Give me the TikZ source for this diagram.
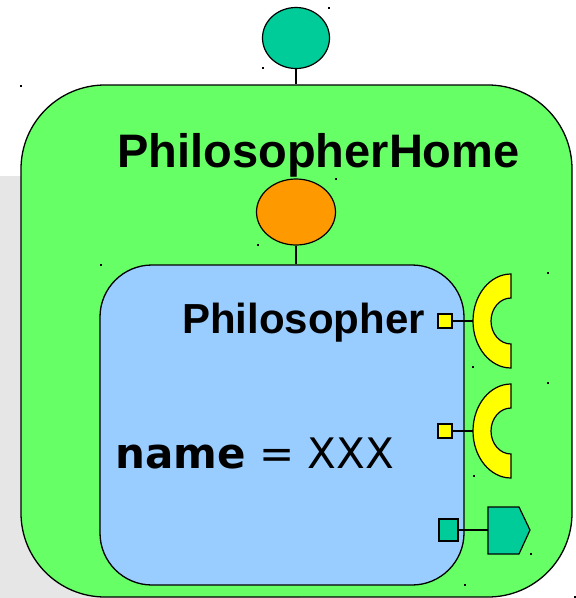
\documentclass[tikz,border=0pt]{standalone}
\usepackage{fontspec}
\usepackage{tikz}
\usetikzlibrary{shapes.geometric}
\newfontfamily\arialfont{Liberation Sans}
\newfontfamily\dejafont{DejaVu Sans}
\definecolor{homegreen}{HTML}{66FF66}
\definecolor{philblue}{HTML}{99CCFF}
\definecolor{portteal}{HTML}{00CC99}
\definecolor{portorange}{HTML}{FF9900}
\definecolor{portyellow}{HTML}{FFFF00}
\definecolor{backgray}{HTML}{E6E6E6}
\begin{document}
\begin{tikzpicture}[x=1pt, y=1pt,
             home/.style={draw, line width=1.3pt, fill=homegreen, minimum width=551pt,
                minimum height=512pt, rounded corners=84pt, inner sep=0pt},
             part/.style={draw, line width=1.3pt, fill=philblue, minimum width=364pt,
                minimum height=320pt, rounded corners=52pt, inner sep=0pt},
             lollipop/.style={draw, line width=1.2pt, ellipse, inner sep=0pt},
             port/.style={draw, line width=1.1pt, inner sep=0pt},
             title/.style={font=\arialfont\bfseries\fontsize{47}{52}\selectfont, inner sep=0pt},
             subtitle/.style={font=\arialfont\bfseries\fontsize{42}{48}\selectfont, inner sep=0pt},
             attr/.style={font=\dejafont\fontsize{42}{48}\selectfont, inner sep=0pt},
             connections/.style={draw, line width=1.1pt},
             symbol/.style={draw, line width=1.2pt},
          ]
          \useasboundingbox (0,0) rectangle (576,-598);
          \fill[backgray] (0,-176) rectangle (300,-598);

          \node at (296.5,-341) (phome) [home] {};
          \node at (282,-425) (phil) [part] {};
          \node at (296,-38) (ext) [lollipop, fill=portteal, minimum width=67pt, minimum height=61pt] {};
          \node at (296,-212) (inn) [lollipop, fill=portorange, minimum width=79pt, minimum height=66pt] {};

          \node at (318.5,-167) (htitle) [title, anchor=base] {PhilosopherHome};
          \node at (425,-333) (ptitle) [subtitle, anchor=base east] {Philosopher};
          \node at (115,-468) (pattr) [attr, anchor=base west] {\textbf{name} = XXX};

          \node at (445,-321) (left) [port, fill=portyellow, minimum size=14pt] {};
          \node at (445,-431) (right) [port, fill=portyellow, minimum size=14pt] {};
          \node at (448.5,-530) (out) [port, fill=portteal, minimum width=19pt, minimum height=22pt] {};

          \coordinate (lfork) at (473,-321);
          \coordinate (rfork) at (473,-431);
          \coordinate (plate) at (488,-530);

          \foreach \cy in {321,431}
            \draw[symbol, fill=portyellow] (511,-\cy+47) arc[start angle=90, end angle=270, x radius=38, y radius=47]
              -- (511,-\cy-23) arc[start angle=270, end angle=90, x radius=20, y radius=23] -- cycle;
          \draw[symbol, fill=portteal] (488,-507) -- (519,-507) -- (530,-530) -- (519,-554) -- (488,-554) -- cycle;

          \draw[connections] (ext.south) -- (ext.south |- phome.north);
          \draw[connections] (inn.south) -- (inn.south |- phil.north);
          \draw[connections] (left.east) -- (lfork);
          \draw[connections] (right.east) -- (rfork);
          \draw[connections] (out.east) -- (plate);

          \foreach \dx/\dy in {329/8, 263/68, 21/86, 101/265, 336/179, 258/245, 548/273, 473/367,
                               548/383, 474/476, 531/554, 465/585, 575/597}
            \fill (\dx,-\dy) ++(-1,-1) rectangle ++(2,2);
\end{tikzpicture}
\end{document}
